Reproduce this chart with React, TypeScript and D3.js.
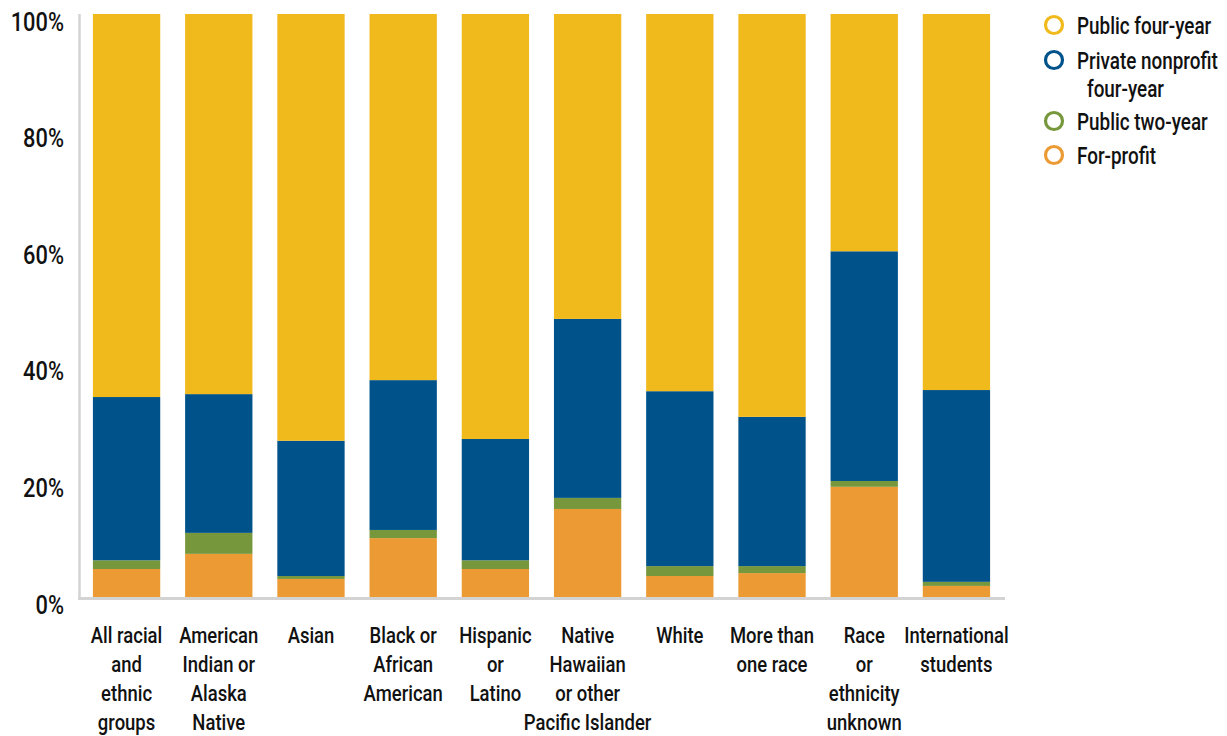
import React from "react";
import * as d3 from "d3";

const categories = [
  ["All racial", "and", "ethnic", "groups"],
  ["American", "Indian or", "Alaska", "Native"],
  ["Asian"],
  ["Black or", "African", "American"],
  ["Hispanic", "or", "Latino"],
  ["Native", "Hawaiian", "or other", "Pacific Islander"],
  ["White"],
  ["More than", "one race"],
  ["Race", "or", "ethnicity", "unknown"],
  ["International", "students"],
];

const forProfit = [4.8, 7.4, 3.1, 10.1, 4.8, 15.1, 3.6, 4.1, 18.9, 1.9];
const publicTwoYear = [1.5, 3.6, 0.5, 1.4, 1.5, 1.9, 1.7, 1.2, 1.0, 0.7];
const privateNonprofit = [28.0, 23.8, 23.2, 25.7, 20.8, 30.7, 30.0, 25.6, 39.4, 32.9];
const publicFourYear = [65.7, 65.2, 73.2, 62.8, 72.9, 52.3, 64.7, 69.1, 40.7, 64.5];

const yTicks = [0, 20, 40, 60, 80, 100];

const seriesKeys = ["forProfit", "publicTwoYear", "privateNonprofit", "publicFourYear"];
const seriesColors: Record<string, string> = {
  publicFourYear: "#F0B91C",
  privateNonprofit: "#00538A",
  publicTwoYear: "#77973D",
  forProfit: "#EB9A34",
};
const legendItems = [
  { key: "publicFourYear", lines: ["Public four-year"] },
  { key: "privateNonprofit", lines: ["Private nonprofit", "four-year"] },
  { key: "publicTwoYear", lines: ["Public two-year"] },
  { key: "forProfit", lines: ["For-profit"] },
];

const FONT = "Roboto, 'DejaVu Sans Condensed', sans-serif";
const TEXT_COLOR = "#111";

export default function App() {
  const width = 1227;
  const height = 736;
  const table = categories.map((c, i) => ({
    idx: String(i),
    forProfit: forProfit[i],
    publicTwoYear: publicTwoYear[i],
    privateNonprofit: privateNonprofit[i],
    publicFourYear: publicFourYear[i],
  }));
  const x = d3
    .scaleBand<string>()
    .domain(table.map((d) => d.idx))
    .range([80, 1003])
    .paddingInner(0.27)
    .paddingOuter(0.14);
  const y = d3.scaleLinear().domain([0, 100]).range([597, 14]);
  const stack = d3.stack<any>().keys(seriesKeys);
  const layers = stack(table);

  return (
    <svg
      width={width}
      height={height}
      style={{ position: "absolute", left: 0, top: 0, background: "#fff" }}
      fontFamily={FONT}
      fontWeight={500}
    >
      {layers.map((layer) => (
        <g key={layer.key} fill={seriesColors[layer.key]}>
          {layer.map((d, i) => (
            <rect
              key={i}
              x={x(table[i].idx)}
              width={x.bandwidth()}
              y={y(d[1])}
              height={Math.max(0, y(d[0]) - y(d[1]))}
            />
          ))}
        </g>
      ))}
      <line x1={79.5} x2={79.5} y1={14} y2={598} stroke="#d3d3d3" strokeWidth={2.5} />
      <line x1={78} x2={1005} y1={598.5} y2={598.5} stroke="#d3d3d3" strokeWidth={3} />
      {yTicks.map((t) => (
        <g key={t} transform={`translate(64,${y(t) + 16.5}) scale(0.84,1)`}>
          <text textAnchor="end" fontSize={26} fill={TEXT_COLOR}>
            {t}%
          </text>
        </g>
      ))}
      {categories.map((lines, i) => {
        const cx = (x(String(i)) as number) + x.bandwidth() / 2;
        return (
          <g key={i} transform={`translate(${cx},643) scale(0.84,1)`}>
            <text textAnchor="middle" fontSize={22} fill={TEXT_COLOR}>
              {lines.map((l, j) => (
                <tspan key={j} x={0} y={j * 29}>
                  {l}
                </tspan>
              ))}
            </text>
          </g>
        );
      })}
      {legendItems.map((item, i) => {
        const cy = [25, 60, 121, 155][i];
        return (
          <g key={item.key}>
            <circle cx={1054} cy={cy} r={8.5} fill="none" stroke={seriesColors[item.key]} strokeWidth={3.2} />
            {item.lines.map((l, j) => (
              <g key={j} transform={`translate(${j === 0 ? 1077 : 1087},${cy + 9 + j * 28}) scale(0.77,1)`}>
                <text fontSize={24.5} fill={TEXT_COLOR}>
                  {l}
                </text>
              </g>
            ))}
          </g>
        );
      })}
    </svg>
  );
}
